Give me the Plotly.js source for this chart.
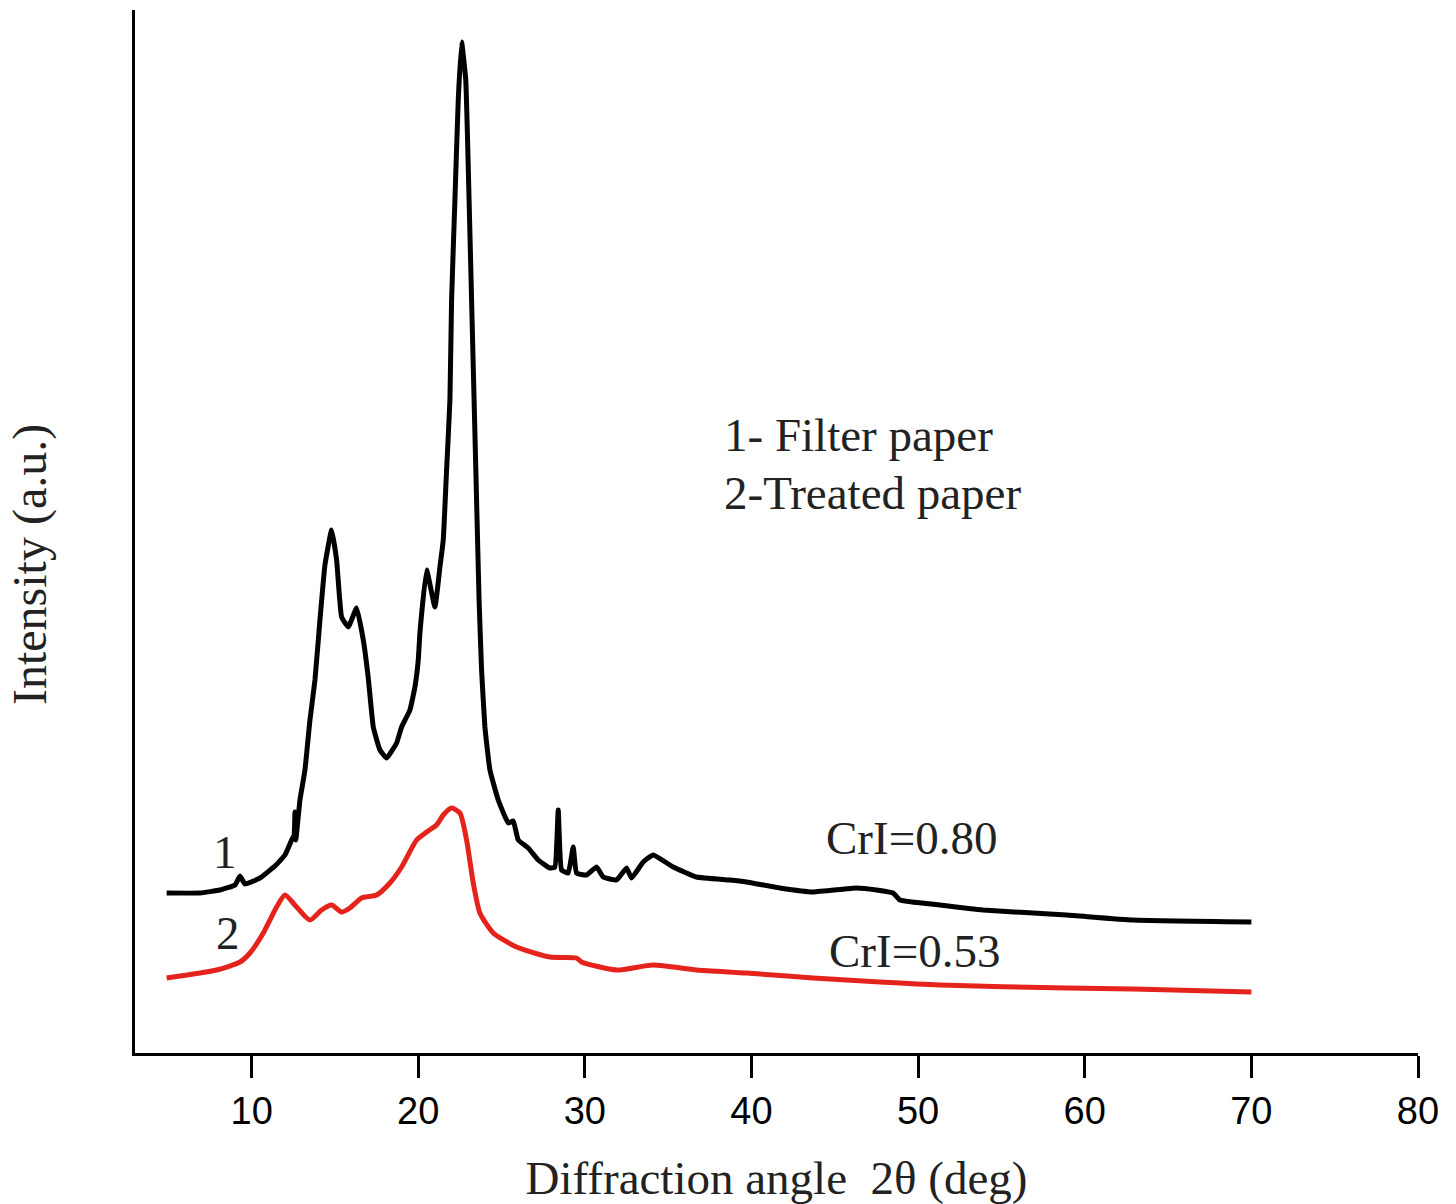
<!DOCTYPE html>
<html>
<head>
<meta charset="utf-8">
<script src="https://cdn.plot.ly/plotly-3.0.1.min.js"></script>
<style>html,body{margin:0;padding:0;background:#fff;}#chart{width:1456px;height:1204px;}</style>
</head>
<body>
<div id="chart"></div>
<script>
// Sample 1: Filter paper (black)
const angle1 = [4.9, 6.9, 8.1, 9.0, 9.3, 9.6, 10.5, 11.4, 12.0, 12.4, 12.55, 12.6, 12.65, 12.9, 13.2, 13.5, 13.8, 14.1, 14.4, 14.8, 15.1, 15.4, 15.8, 16.3, 16.7, 17.0, 17.3, 17.7, 18.1, 18.7, 19.0, 19.5, 19.8, 20.0, 20.1, 20.5, 21.0, 21.3, 21.5, 21.7, 21.9, 22.0, 22.2, 22.4, 22.6, 22.85, 23.05, 23.2, 23.35, 23.5, 23.65, 23.8, 24.0, 24.3, 24.8, 25.4, 25.7, 26.0, 26.6, 27.2, 27.9, 28.2, 28.4, 28.6, 29.0, 29.3, 29.5, 30.1, 30.7, 31.1, 31.9, 32.5, 32.8, 33.5, 34.1, 35.3, 36.7, 38.7, 39.7, 41.7, 43.7, 46.3, 47.5, 48.5, 48.9, 51.3, 53.9, 58.9, 62.9, 70.0];
const intensity1 = [160, 160, 163, 168, 177, 169, 175, 187, 198, 213, 218, 241, 213, 253, 283, 333, 373, 433, 488, 523, 493, 436, 426, 445, 413, 375, 326, 303, 295, 310, 326, 343, 366, 393, 420, 483, 446, 486, 513, 583, 653, 753, 853, 953, 1011, 973, 853, 753, 653, 553, 453, 383, 326, 283, 253, 230, 232, 213, 205, 193, 185, 186, 243, 183, 180, 206, 180, 178, 186, 176, 173, 185, 175, 191, 198, 186, 176, 173, 171, 165, 161, 165, 163, 160, 153, 148, 143, 138, 133, 131];

// Sample 2: Treated paper (red)
const angle2 = [4.9, 7.9, 9.3, 9.9, 10.7, 11.5, 12.0, 12.7, 13.5, 14.2, 14.8, 15.4, 15.9, 16.6, 17.5, 18.3, 19.0, 19.9, 20.5, 21.1, 21.5, 22.0, 22.5, 22.9, 23.3, 23.7, 24.5, 25.9, 27.9, 29.5, 29.8, 31.9, 34.1, 36.7, 39.7, 43.7, 47.7, 51.3, 58.9, 62.9, 70.0];
const intensity2 = [75, 83, 91, 100, 120, 146, 158, 146, 133, 143, 148, 141, 145, 155, 158, 170, 186, 213, 221, 228, 238, 245, 240, 213, 170, 140, 120, 106, 96, 95, 91, 83, 88, 83, 80, 75, 71, 68, 65, 64, 61];

const xTicks = [10, 20, 30, 40, 50, 60, 70, 80];
const xTickLabels = ["10", "20", "30", "40", "50", "60", "70", "80"];

const serif = "Liberation Serif, Times New Roman, serif";
const sans = "Liberation Sans Narrow, Arial Narrow, Liberation Sans, Arial, sans-serif";
const txt = {family: serif, size: 47, color: "#222"};

const traces = [
  {x: angle1, y: intensity1, mode: "lines", line: {color: "#000000", width: 5, shape: "spline", smoothing: 0.35}, name: "1- Filter paper"},
  {x: angle2, y: intensity2, mode: "lines", line: {color: "#e5231d", width: 5, shape: "spline", smoothing: 0.6}, name: "2-Treated paper"}
];

const layout = {
  width: 1456, height: 1204,
  margin: {l: 135, r: 38, t: 10, b: 151},
  paper_bgcolor: "#ffffff", plot_bgcolor: "#ffffff",
  showlegend: false,
  xaxis: {
    range: [3, 80], tickvals: xTicks, ticktext: xTickLabels,
    ticks: "outside", ticklen: 22, tickwidth: 3, tickcolor: "#000",
    showline: true, linewidth: 3, linecolor: "#000",
    showgrid: false, zeroline: false,
    tickfont: {family: sans, size: 38, color: "#000"},
    title: {text: "Diffraction angle\u00A0\u00A02θ (deg)", font: txt, standoff: 38}
  },
  yaxis: {
    range: [0, 1043], showticklabels: false, ticks: "",
    showline: true, linewidth: 3, linecolor: "#000",
    showgrid: false, zeroline: false
  },
  annotations: [
    {xref: "paper", x: -0.0818, y: 488, text: "Intensity (a.u.)", textangle: -90, showarrow: false, xanchor: "center", yanchor: "middle", font: {family: serif, size: 48, color: "#222"}},
    {x: 8.4, y: 201, text: "1", showarrow: false, font: txt},
    {x: 8.6, y: 120, text: "2", showarrow: false, font: txt},
    {x: 49.6, y: 215, text: "CrI=0.80", showarrow: false, font: txt},
    {x: 49.8, y: 102, text: "CrI=0.53", showarrow: false, font: txt},
    {x: 38.2, y: 618, text: "1- Filter paper", showarrow: false, xanchor: "left", font: txt},
    {x: 38.2, y: 560, text: "2-Treated paper", showarrow: false, xanchor: "left", font: txt}
  ]
};

Plotly.newPlot("chart", traces, layout, {displayModeBar: false, staticPlot: true});
</script>
</body>
</html>
